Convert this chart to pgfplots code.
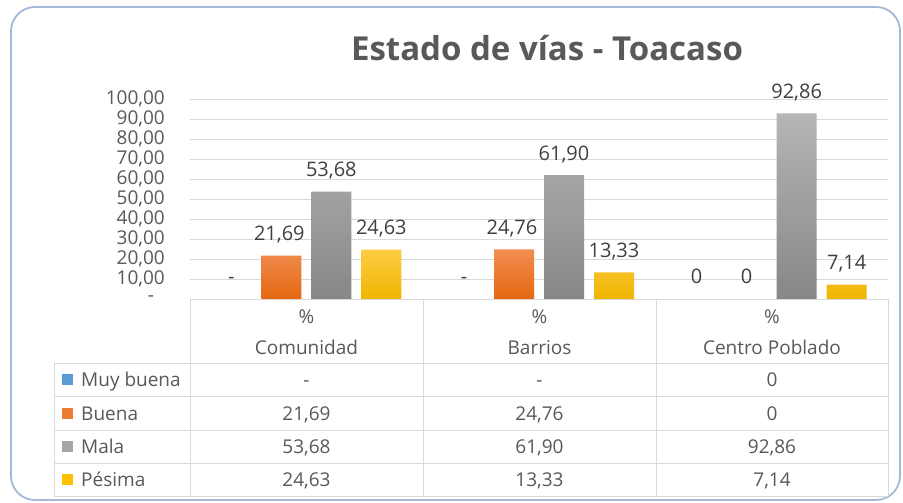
\documentclass[border=0pt]{standalone}
\usepackage{pgfplots}
\pgfplotsset{compat=1.18}
\usepackage{fontspec}
\setmainfont{Open Sans}
\definecolor{txt}{HTML}{595959}
\definecolor{lbl}{HTML}{404040}
\definecolor{gridc}{HTML}{D9D9D9}
\definecolor{framec}{HTML}{A3B8DA}
\definecolor{cBlue}{HTML}{5B9BD5}
\definecolor{cOrT}{HTML}{F28E52}
\definecolor{cOrB}{HTML}{E4670F}
\definecolor{cGrT}{HTML}{B5B5B5}
\definecolor{cGrB}{HTML}{878787}
\definecolor{cYeT}{HTML}{FFCC44}
\definecolor{cYeB}{HTML}{EFB500}
\definecolor{cOr}{HTML}{ED7D31}
\definecolor{cGr}{HTML}{A5A5A5}
\definecolor{cYe}{HTML}{FFC000}
\newcommand{\T}[3]{\node[text=txt, font=\fontsize{19}{22}\selectfont, anchor=base, inner sep=0pt] at (#1,{503-#2-6.8}) {#3};}
\newcommand{\TL}[3]{\node[text=txt, font=\fontsize{19}{22}\selectfont, anchor=base west, inner sep=0pt] at (#1,{503-#2-6.8}) {#3};}
\begin{document}
\begin{tikzpicture}[x=1pt,y=1pt]
\useasboundingbox (0,0) rectangle (903,503);
\fill[white] (0,0) rectangle (903,503);
\draw[framec, line width=1.8pt, rounded corners=24pt] (11,496) rectangle (900,3);
\node[text=txt, font=\fontsize{33}{38}\selectfont\bfseries, anchor=base, inner sep=0pt] at (547,{503-60.5}) {Estado de vías - Toacaso};
\begin{axis}[at={(190pt,204pt)}, anchor=south west, scale only axis,
  width=698pt, height=200pt,
  xmin=-0.5, xmax=2.5, ymin=0, ymax=100,
  axis line style={draw=none}, tick style={draw=none},
  bar width=40pt,
  xtick=\empty,
  ytick={0,10,...,100},
  yticklabels={{-\hphantom{0}},{10,00},{20,00},{30,00},{40,00},{50,00},{60,00},{70,00},{80,00},{90,00},{100,00}},
  ymajorgrids, grid style={gridc, line width=0.9pt},
  yticklabel style={font=\fontsize{19}{22}\selectfont, text=txt, anchor=east, inner sep=0pt, xshift=-25pt},
  /pgf/number format/assume math mode=true,
  point meta=explicit symbolic,
  nodes near coords,
  every node near coord/.append style={font=\fontsize{20}{23}\selectfont, text=lbl, anchor=base, inner sep=0pt, yshift=15pt},
  clip=false]
\addplot[ybar, bar shift=-75pt, draw=none, fill=none, every node near coord/.append style={xshift=-75pt}] coordinates {(0,0) [-] (1,0) [-] (2,0) [0]};
\addplot[ybar, bar shift=-25pt, draw=none, top color=cOrT, bottom color=cOrB, every node near coord/.append style={xshift=-27pt}] coordinates {(0,21.69) [{21,69}] (1,24.76) [{24,76}]};
\addplot[ybar, bar shift=-25pt, draw=none, fill=none, every node near coord/.append style={xshift=-25pt}] coordinates {(2,0) [0]};
\addplot[ybar, bar shift=25pt, draw=none, top color=cGrT, bottom color=cGrB, every node near coord/.append style={xshift=25pt}] coordinates {(0,53.68) [{53,68}] (1,61.90) [{61,90}] (2,92.86) [{92,86}]};
\addplot[ybar, bar shift=75pt, draw=none, top color=cYeT, bottom color=cYeB, every node near coord/.append style={xshift=75pt}] coordinates {(0,24.63) [{24,63}] (1,13.33) [{13,33}] (2,7.14) [{7,14}]};
\end{axis}
% data table
\begin{scope}[gridc, line width=0.9pt]
\draw (190,{503-299}) -- (888,{503-299});
\foreach \yy in {363,396.5,430,463,496} {\draw (54,{503-\yy}) -- (888,{503-\yy});}
\foreach \xx in {190,423,656,888} {\draw (\xx,{503-299}) -- (\xx,{503-496});}
\draw (54,{503-363}) -- (54,{503-496});
\end{scope}
\T{306.5}{317}{\%}
\T{539.5}{317}{\%}
\T{772}{317}{\%}
\T{306.5}{348}{Comunidad}
\T{539.5}{348}{Barrios}
\T{772}{348}{Centro Poblado}
\fill[cBlue] (62,{503-374.5}) rectangle (73,{503-385.5});
\fill[cOr] (62,{503-408}) rectangle (73,{503-419});
\fill[cGr] (62,{503-441}) rectangle (73,{503-452});
\fill[cYe] (62,{503-474}) rectangle (73,{503-485});
\TL{81}{379.75}{Muy buena}
\TL{81}{413.25}{Buena}
\TL{81}{446.5}{Mala}
\TL{81}{479.5}{Pésima}
\T{306.5}{379.75}{-}
\T{539.5}{379.75}{-}
\T{772}{379.75}{0}
\T{306.5}{413.25}{21,69}
\T{539.5}{413.25}{24,76}
\T{772}{413.25}{0}
\T{306.5}{446.5}{53,68}
\T{539.5}{446.5}{61,90}
\T{772}{446.5}{92,86}
\T{306.5}{479.5}{24,63}
\T{539.5}{479.5}{13,33}
\T{772}{479.5}{7,14}
\end{tikzpicture}
\end{document}
